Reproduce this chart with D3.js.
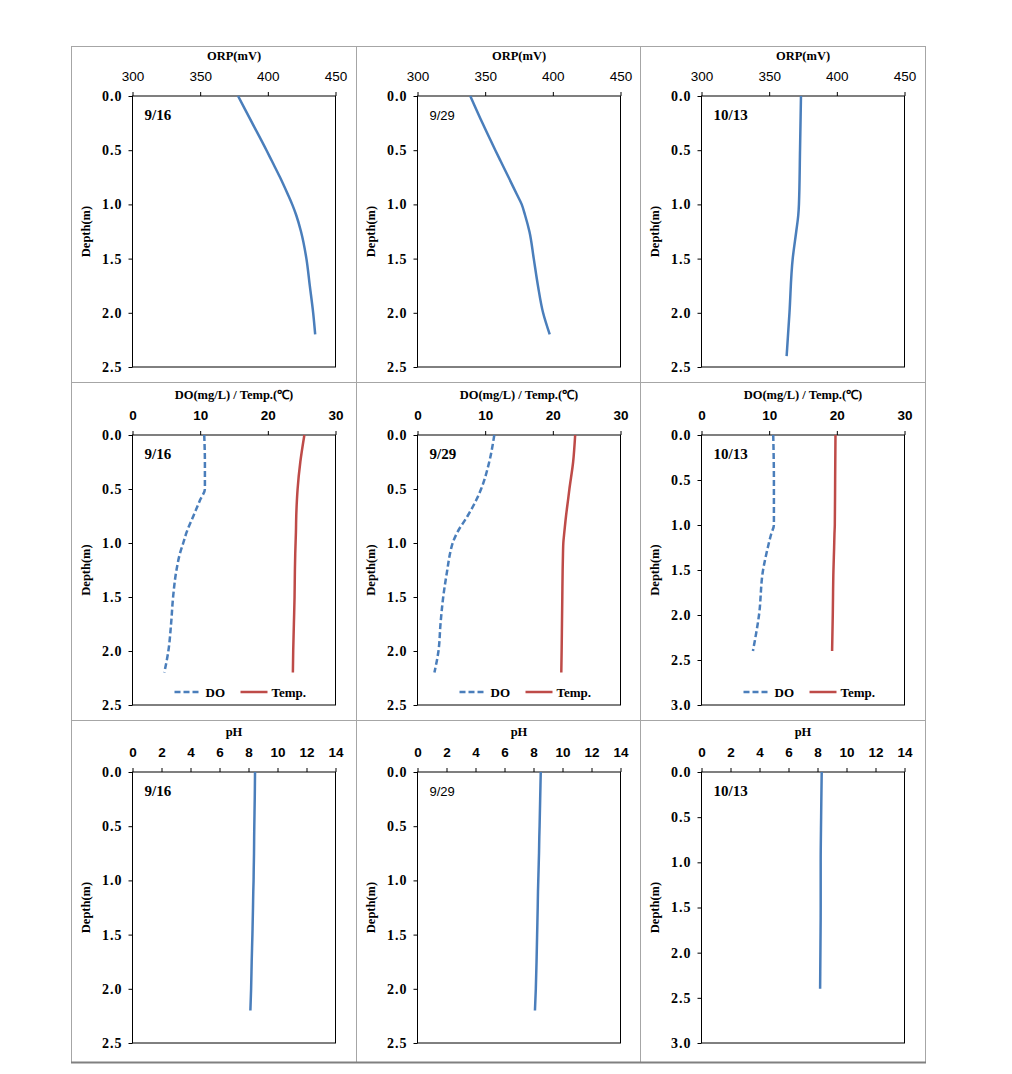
<!DOCTYPE html>
<html>
<head>
<meta charset="utf-8">
<script src="https://cdn.jsdelivr.net/npm/d3@7"></script>
<style>
  body { margin: 0; background: #fff; }
  svg { display: block; }
</style>
</head>
<body>
<div id="chart"></div>
<script>
// depth profiles
const depth916 = [0, 0.25, 0.5, 0.6, 0.75, 0.9, 1.0, 1.1, 1.25, 1.5, 1.75, 2.0, 2.2];
const orp916 = [378, 388.5, 399, 403, 409, 414.5, 418, 421, 424.5, 428.5, 431, 433.5, 435];
const do916 = [10.6, 10.7, 10.7, 10.0, 9.0, 8.0, 7.5, 7.0, 6.5, 6.0, 5.7, 5.3, 4.7];
const temp916 = [25.4, 24.8, 24.4, 24.3, 24.2, 24.15, 24.1, 24.05, 24.0, 23.95, 23.85, 23.75, 23.7];
const ph916 = [8.45, 8.43, 8.40, 8.39, 8.38, 8.36, 8.35, 8.33, 8.31, 8.27, 8.22, 8.18, 8.13];

const depth929 = [0, 0.25, 0.5, 0.6, 0.75, 0.9, 1.0, 1.1, 1.25, 1.5, 1.75, 2.0, 2.2];
const orp929 = [339, 348, 357.5, 361.4, 367.3, 373.1, 377, 379.5, 382.7, 385.9, 389, 392.8, 397.7];
const do929 = [11.35, 10.6, 9.4, 8.7, 7.4, 5.9, 5.2, 4.8, 4.4, 3.8, 3.4, 3.1, 2.5];
const temp929 = [23.3, 23.0, 22.45, 22.25, 21.95, 21.7, 21.55, 21.5, 21.45, 21.4, 21.35, 21.3, 21.25];
const ph929 = [8.5, 8.46, 8.42, 8.4, 8.38, 8.35, 8.33, 8.31, 8.29, 8.25, 8.21, 8.16, 8.1];

const depth1013 = [0, 0.5, 1.0, 1.1, 1.25, 1.5, 2.0, 2.4];
const orp1013 = [373.5, 372.8, 372, 371.5, 370, 367.4, 365, 362.9];
const do1013 = [10.6, 10.7, 10.7, 10.3, 9.8, 9.1, 8.5, 7.6];
const temp1013 = [19.8, 19.75, 19.7, 19.65, 19.6, 19.5, 19.4, 19.3];
const ph1013 = [8.29, 8.25, 8.22, 8.22, 8.22, 8.22, 8.2, 8.18];

const dates = ["9/16", "9/29", "10/13"];
const orpTicks = [300, 350, 400, 450];
const doTicks = [0, 10, 20, 30];
const phTicks = [0, 2, 4, 6, 8, 10, 12, 14];
const depthTicks25 = [0, 0.5, 1.0, 1.5, 2.0, 2.5];
const depthTicks30 = [0, 0.5, 1.0, 1.5, 2.0, 2.5, 3.0];

const serif = "'Liberation Serif', 'Times New Roman', serif";
const sans = "'Liberation Sans', Arial, sans-serif";
const blue = "#4a7ebb";
const red = "#be4b48";

const svg = d3.select("#chart").append("svg")
    .attr("width", 1012)
    .attr("height", 1074);

// cell grid
const colX = [71, 356, 640, 925];
const rowY = [46, 382, 720, 1062];
const plotTop = [96, 435, 772];
const plotBottom = [367, 705, 1043];

for (let i = 0; i < 4; i++) {
    svg.append("line")
        .attr("x1", colX[i] + 0.5).attr("x2", colX[i] + 0.5)
        .attr("y1", rowY[0]).attr("y2", rowY[3])
        .attr("stroke", "#a6a6a6");
}
for (let j = 0; j < 4; j++) {
    svg.append("line")
        .attr("x1", colX[0]).attr("x2", colX[3] + 1)
        .attr("y1", rowY[j] + 0.5).attr("y2", rowY[j] + 0.5)
        .attr("stroke", j == 3 ? "#808080" : "#a6a6a6")
        .attr("stroke-width", j == 3 ? 2 : 1);
}

function drawPanel(col, row, cfg) {
    const left = colX[col] + 61.5;
    const width = 203;
    const top = plotTop[row];
    const height = plotBottom[row] - top;

    const g = svg.append("g")
        .attr("transform", `translate(${left}, ${top})`);

    const x = d3.scaleLinear().domain(cfg.xDomain).range([0, width]);
    const y = d3.scaleLinear().domain(cfg.yDomain).range([0, height]);

    // frame
    g.append("rect")
        .attr("x", 0).attr("y", 0)
        .attr("width", width).attr("height", height)
        .attr("fill", "none")
        .attr("stroke", "#000");

    const xAxis = g.append("g")
        .call(d3.axisTop(x).tickValues(cfg.xTicks).tickSize(4).tickPadding(11).tickSizeOuter(0));
    xAxis.select(".domain").remove();
    xAxis.selectAll("text")
        .style("font-family", sans)
        .style("font-size", "13.5px")
        .style("font-weight", cfg.xBold ? "bold" : "normal")
        .attr("fill", "#000");

    const yAxis = g.append("g")
        .call(d3.axisLeft(y).tickValues(cfg.yTicks).tickFormat(d3.format(".1f")).tickSize(4).tickPadding(6).tickSizeOuter(0));
    yAxis.select(".domain").remove();
    yAxis.selectAll("text")
        .style("font-family", serif)
        .style("font-size", "14px")
        .style("font-weight", "bold")
        .style("letter-spacing", "1px")
        .attr("fill", "#000");

    g.append("text")
        .attr("x", width / 2)
        .attr("y", -36)
        .attr("text-anchor", "middle")
        .style("font-family", serif)
        .style("font-size", "12.5px")
        .style("font-weight", "bold")
        .text(cfg.title);

    g.append("text")
        .attr("transform", "rotate(-90)")
        .attr("x", -height / 2)
        .attr("y", -43)
        .attr("text-anchor", "middle")
        .style("font-family", serif)
        .style("font-size", "12.5px")
        .style("font-weight", "bold")
        .text("Depth(m)");

    g.append("text")
        .attr("x", 12)
        .attr("y", 24)
        .style("font-family", cfg.dateSans ? sans : serif)
        .style("font-size", cfg.dateSans ? "13px" : "15px")
        .style("font-weight", cfg.dateSans ? "normal" : "bold")
        .text(cfg.date);

    cfg.series.forEach(s => {
        const pts = s.depth.map((d, i) => [s.values[i], d]);
        g.append("path")
            .datum(pts)
            .attr("fill", "none")
            .attr("stroke", s.color)
            .attr("stroke-width", 2.5)
            .attr("stroke-dasharray", s.dash || null)
            .attr("d", d3.line()
                .x(d => x(d[0]))
                .y(d => y(d[1]))
                .curve(d3.curveMonotoneY));
    });

    if (cfg.legend) {
        const ly = height - 13;
        const leg = g.append("g").attr("transform", `translate(0, ${ly})`);
        cfg.series.forEach((s, i) => {
            const x0 = i == 0 ? 42 : 108;
            leg.append("line")
                .attr("x1", x0).attr("x2", x0 + 27)
                .attr("y1", 0).attr("y2", 0)
                .attr("stroke", s.color)
                .attr("stroke-width", 2.5)
                .attr("stroke-dasharray", s.dash || null);
            leg.append("text")
                .attr("x", x0 + 31)
                .attr("y", 4.5)
                .style("font-family", serif)
                .style("font-size", "13px")
                .style("font-weight", "bold")
                .text(s.name);
        });
    }
}

const depths = [depth916, depth929, depth1013];
const orps = [orp916, orp929, orp1013];
const dos = [do916, do929, do1013];
const temps = [temp916, temp929, temp1013];
const phs = [ph916, ph929, ph1013];

dates.forEach((date, c) => {
    const deep = c == 2;
    drawPanel(c, 0, {
        title: "ORP(mV)", date: date, dateSans: c == 1,
        xDomain: [300, 450], xTicks: orpTicks, xBold: false,
        yDomain: [0, 2.5], yTicks: depthTicks25,
        series: [{ depth: depths[c], values: orps[c], color: blue }]
    });
    drawPanel(c, 1, {
        title: "DO(mg/L) / Temp.(\u2103)", date: date, dateSans: false,
        xDomain: [0, 30], xTicks: doTicks, xBold: true,
        yDomain: deep ? [0, 3.0] : [0, 2.5], yTicks: deep ? depthTicks30 : depthTicks25,
        legend: true,
        series: [
            { name: "DO", depth: depths[c], values: dos[c], color: blue, dash: "6,3" },
            { name: "Temp.", depth: depths[c], values: temps[c], color: red }
        ]
    });
    drawPanel(c, 2, {
        title: "pH", date: date, dateSans: c == 1,
        xDomain: [0, 14], xTicks: phTicks, xBold: true,
        yDomain: deep ? [0, 3.0] : [0, 2.5], yTicks: deep ? depthTicks30 : depthTicks25,
        series: [{ depth: depths[c], values: phs[c], color: blue }]
    });
});
</script>
</body>
</html>
